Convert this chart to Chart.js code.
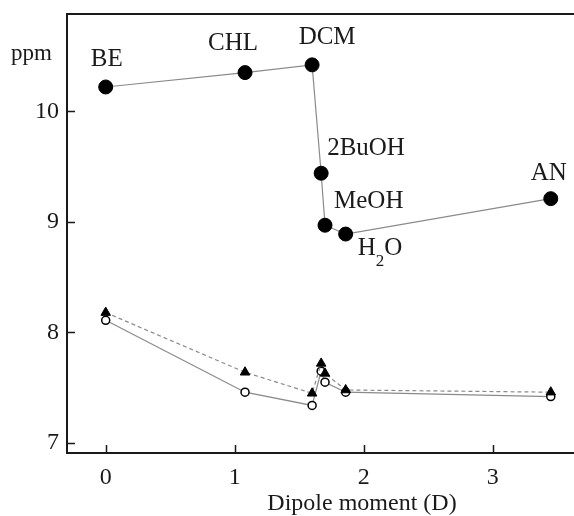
<!DOCTYPE html>
<html>
<head>
<meta charset="utf-8">
<script src="https://cdn.jsdelivr.net/npm/chart.js@4"></script>
<style>
  body { margin: 0; background: #fff; }
  canvas { display: block; }
</style>
</head>
<body>
<canvas id="shiftChart" width="574" height="516"></canvas>
<script>
// Solvents and their dipole moments (D)
const solvents = ["BE", "CHL", "DCM", "2BuOH", "MeOH", "H2O", "AN"];
const dipole = [0, 1.08, 1.6, 1.67, 1.7, 1.86, 3.45];

// Chemical shifts (ppm)
const shiftUpper = [10.22, 10.35, 10.42, 9.44, 8.97, 8.89, 9.21];
const shiftOpen = [8.11, 7.46, 7.34, 7.65, 7.55, 7.46, 7.42];
const shiftTriangle = [8.18, 7.64, 7.45, 7.72, 7.63, 7.48, 7.46];

// Tick labels
const xTicks = [0, 1, 2, 3];
const yTicks = [7, 8, 9, 10];

const serif = '"Liberation Serif", "DejaVu Serif", serif';
const ink = "#1a1a1a";

// label placement next to each big dot: [dx, dy, align]
const labelPos = [
  [1, -28, "center"],
  [-12, -29, "center"],
  [15, -27, "center"],
  [6, -25, "left"],
  [9, -24, "left"],
  [12, 14, "left"],
  [-2, -25, "center"],
];

const toPoints = (ys) => dipole.map((x, i) => ({ x: x, y: ys[i] }));

// draws "H2O" style text with digits after letters as subscripts
function drawFormula(ctx, text, x, y, align) {
  const parts = [];
  for (let i = 0; i < text.length; i++) {
    const sub = /\d/.test(text[i]) && i > 0 && /[A-Za-z]/.test(text[i - 1]);
    parts.push({ ch: text[i], sub: sub });
  }
  const big = "25px " + serif;
  const small = "17px " + serif;
  let width = 0;
  parts.forEach((p) => {
    ctx.font = p.sub ? small : big;
    width += ctx.measureText(p.ch).width;
  });
  let cx = align === "center" ? x - width / 2 : x;
  ctx.textAlign = "left";
  ctx.textBaseline = "middle";
  parts.forEach((p) => {
    ctx.font = p.sub ? small : big;
    ctx.fillText(p.ch, cx, p.sub ? y + 13 : y);
    cx += ctx.measureText(p.ch).width;
  });
}

const decorations = {
  id: "decorations",
  afterDraw(chart) {
    const { ctx, chartArea, scales } = chart;
    const xs = scales.x;
    const ys = scales.y;
    ctx.save();
    ctx.strokeStyle = ink;
    ctx.fillStyle = ink;

    // top frame line
    ctx.lineWidth = 2;
    ctx.beginPath();
    ctx.moveTo(chartArea.left - 1, chartArea.top);
    ctx.lineTo(chartArea.right, chartArea.top);
    ctx.stroke();

    // inward tick marks
    ctx.lineWidth = 1.5;
    ctx.beginPath();
    xTicks.forEach((v) => {
      const px = Math.round(xs.getPixelForValue(v)) + 0.5;
      ctx.moveTo(px, chartArea.bottom);
      ctx.lineTo(px, chartArea.bottom - 8);
    });
    yTicks.forEach((v) => {
      const py = Math.round(ys.getPixelForValue(v)) + 0.5;
      ctx.moveTo(chartArea.left, py);
      ctx.lineTo(chartArea.left + 8, py);
    });
    ctx.stroke();

    // solvent labels
    solvents.forEach((name, i) => {
      const px = xs.getPixelForValue(dipole[i]);
      const py = ys.getPixelForValue(shiftUpper[i]);
      const [dx, dy, align] = labelPos[i];
      drawFormula(ctx, name, px + dx, py + dy, align);
    });

    // axis texts
    ctx.textAlign = "center";
    ctx.textBaseline = "middle";
    ctx.font = "24px " + serif;
    ctx.fillText("Dipole moment (D)", chartArea.left + 295, chartArea.bottom + 51);
    ctx.textAlign = "left";
    ctx.font = "23px " + serif;
    ctx.fillText("ppm", 11, 54);
    ctx.restore();
  },
};

const ctxShift = document.getElementById("shiftChart").getContext("2d");
const shiftChart = new Chart(ctxShift, {
  type: "scatter",
  data: {
    datasets: [
      {
        label: "triangles",
        data: toPoints(shiftTriangle),
        showLine: true,
        borderColor: "#8a8a8a",
        borderWidth: 1.2,
        borderDash: [4, 3],
        pointStyle: "triangle",
        pointRadius: 5.5,
        pointBackgroundColor: "#000",
        pointBorderColor: "#000",
        pointBorderWidth: 1,
      },
      {
        label: "open",
        data: toPoints(shiftOpen),
        showLine: true,
        borderColor: "#8a8a8a",
        borderWidth: 1.2,
        pointStyle: "circle",
        pointRadius: 4,
        pointBackgroundColor: "#fff",
        pointBorderColor: "#000",
        pointBorderWidth: 1.5,
      },
      {
        label: "upper",
        data: toPoints(shiftUpper),
        showLine: true,
        borderColor: "#8a8a8a",
        borderWidth: 1.2,
        pointStyle: "circle",
        pointRadius: 7,
        pointBackgroundColor: "#000",
        pointBorderColor: "#000",
        pointBorderWidth: 1,
      },
    ],
  },
  options: {
    responsive: false,
    animation: false,
    layout: {
      autoPadding: false,
      padding: { top: 14, right: 0, left: 0, bottom: 0 },
    },
    scales: {
      x: {
        type: "linear",
        min: -0.3,
        max: 3.63,
        afterBuildTicks: (scale) => {
          scale.ticks = xTicks.map((v) => ({ value: v }));
        },
        afterFit: (scale) => {
          scale.height = 63;
          scale.paddingLeft = 0;
          scale.paddingRight = 0;
        },
        grid: { display: false, drawTicks: false },
        border: { display: true, color: ink, width: 2 },
        ticks: {
          color: ink,
          padding: 10,
          font: { family: serif, size: 24 },
        },
      },
      y: {
        type: "linear",
        min: 6.91,
        max: 10.88,
        afterBuildTicks: (scale) => {
          scale.ticks = yTicks.map((v) => ({ value: v }));
        },
        afterFit: (scale) => {
          scale.width = 67;
          scale.paddingTop = 0;
          scale.paddingBottom = 0;
        },
        grid: { display: false, drawTicks: false },
        border: { display: true, color: ink, width: 2 },
        ticks: {
          color: ink,
          padding: 8,
          font: { family: serif, size: 24 },
        },
      },
    },
    plugins: {
      legend: { display: false },
      tooltip: { enabled: false },
    },
  },
  plugins: [decorations],
});
</script>
</body>
</html>
